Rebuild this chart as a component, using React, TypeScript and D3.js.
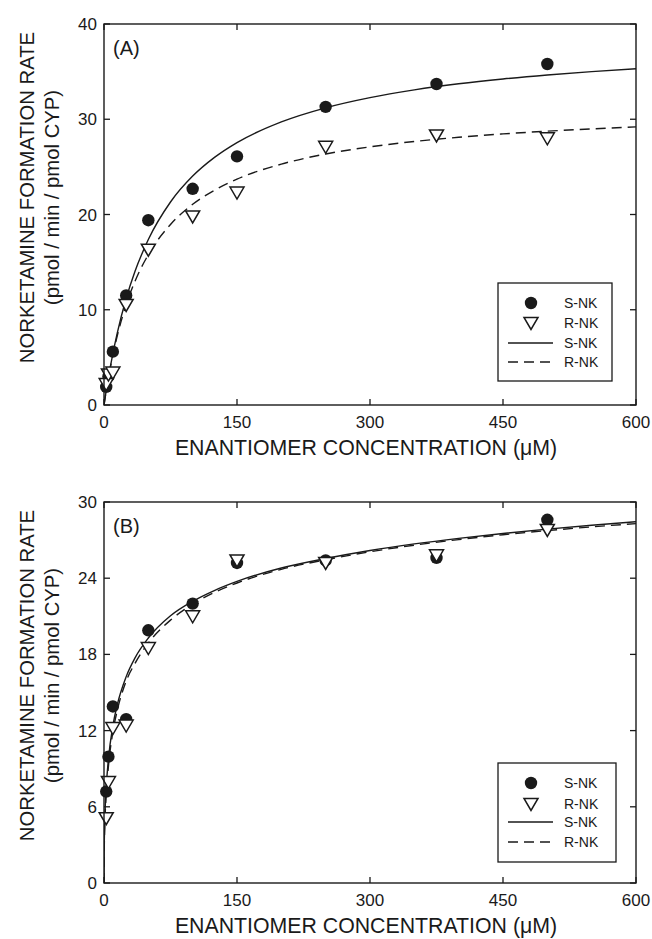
import React from "react";
import * as d3 from "d3";

// ---------- data ----------
const concentrations = [2.5, 5, 10, 25, 50, 100, 150, 250, 375, 500];

const rateA_S = [1.9, 3.0, 5.6, 11.5, 19.4, 22.7, 26.1, 31.3, 33.7, 35.8];
const rateA_R = [2.2, 3.2, 3.4, 10.5, 16.3, 19.8, 22.3, 27.1, 28.3, 28.0];

const rateB_S = [7.2, 9.95, 13.9, 12.9, 19.9, 22.0, 25.2, 25.4, 25.6, 28.6];
const rateB_R = [5.1, 7.95, 12.2, 12.4, 18.5, 21.0, 25.4, 25.2, 25.8, 27.8];

// fitted curves
const fitConc = [0, 1, 2.5, 5, 10, 15, 25, 35, 50, 75, 100, 125, 150, 200, 250, 300, 350, 400, 450, 500, 550, 600];
const fitA_S = [0, 0.62, 1.51, 2.9, 5.4, 7.58, 11.18, 14.04, 17.37, 21.31, 24.03, 26.02, 27.55, 29.72, 31.2, 32.27, 33.08, 33.72, 34.23, 34.65, 35.0, 35.3];
const fitA_R = [0, 0.62, 1.5, 2.87, 5.26, 7.28, 10.52, 13.0, 15.79, 18.95, 21.07, 22.57, 23.71, 25.29, 26.35, 27.1, 27.67, 28.11, 28.46, 28.75, 28.99, 29.2];
const fitConcB = [0, 0.25, 1, 2.5, 5, 10, 15, 25, 35, 50, 75, 100, 125, 150, 200, 250, 300, 350, 400, 450, 500, 550, 600];
const fitB_S = [0, 2.78, 5.15, 7.51, 9.76, 12.38, 14.05, 16.25, 17.73, 19.29, 21.04, 22.18, 23.05, 23.75, 24.8, 25.55, 26.18, 26.7, 27.14, 27.52, 27.86, 28.17, 28.45];
const fitB_R = [0, 2.56, 4.77, 7.0, 9.2, 11.9, 13.6, 15.9, 17.3, 18.9, 20.7, 21.95, 22.9, 23.62, 24.7, 25.45, 26.08, 26.6, 27.04, 27.42, 27.75, 28.04, 28.3];

const xTicks = [0, 150, 300, 450, 600];
const yTicksA = [0, 10, 20, 30, 40];
const yTicksB = [0, 6, 12, 18, 24, 30];
const legendLabels = ["S-NK", "R-NK", "S-NK", "R-NK"];

const INK = "#1a1a1a";
const FONT = "Liberation Sans, Arial, Helvetica, sans-serif";

type PanelProps = {
  top: number;
  bottom: number;
  yMax: number;
  yTicks: number[];
  label: string;
  sRates: number[];
  rRates: number[];
  sFitX: number[];
  sFit: number[];
  rFit: number[];
  legend: { x0: number; x1: number; y0: number; y1: number; rows: number[] };
};

function triPath(cx: number, cy: number) {
  return `M${cx - 7},${cy - 5.5}L${cx + 7},${cy - 5.5}L${cx},${cy + 6.5}Z`;
}

function Panel(p: PanelProps) {
  const left = 104;
  const right = 636;
  const x = d3.scaleLinear().domain([0, 600]).range([left, right]);
  const y = d3.scaleLinear().domain([0, p.yMax]).range([p.bottom, p.top]);
  const line = d3
    .line<[number, number]>()
    .x((d) => x(d[0]))
    .y((d) => y(d[1]))
    .curve(d3.curveMonotoneX);
  const sPath = line(p.sFitX.map((c, i) => [c, p.sFit[i]] as [number, number])) || "";
  const rPath = line(p.sFitX.map((c, i) => [c, p.rFit[i]] as [number, number])) || "";
  const tl = 6;
  const midY = (p.top + p.bottom) / 2 - 17;
  const lg = p.legend;
  return (
    <g>
      <defs>
        <clipPath id={"clip" + p.label}>
          <rect x={left} y={p.top} width={right - left} height={p.bottom - p.top} />
        </clipPath>
      </defs>
      {/* curves */}
      <g clipPath={`url(#clip${p.label})`}>
        <path d={sPath} fill="none" stroke={INK} strokeWidth={1.4} />
        <path d={rPath} fill="none" stroke={INK} strokeWidth={1.4} strokeDasharray="10,6" />
      </g>
      {/* points */}
      {concentrations.map((c, i) => (
        <circle key={"s" + i} cx={x(c)} cy={y(p.sRates[i])} r={6.2} fill={INK} />
      ))}
      {concentrations.map((c, i) => (
        <path key={"r" + i} d={triPath(x(c), y(p.rRates[i]))} fill="white" stroke={INK} strokeWidth={1.5} />
      ))}
      {/* frame */}
      <rect x={left} y={p.top} width={right - left} height={p.bottom - p.top} fill="none" stroke={INK} strokeWidth={1.4} />
      {xTicks.map((t) => (
        <g key={"xt" + t}>
          <line x1={x(t)} x2={x(t)} y1={p.bottom} y2={p.bottom - tl} stroke={INK} strokeWidth={1.3} />
          <line x1={x(t)} x2={x(t)} y1={p.top} y2={p.top + tl} stroke={INK} strokeWidth={1.3} />
          <text x={x(t)} y={p.bottom + 23} textAnchor="middle" fontSize={17} fill={INK} fontFamily={FONT}>
            {t}
          </text>
        </g>
      ))}
      {p.yTicks.map((t) => (
        <g key={"yt" + t}>
          <line x1={left} x2={left + tl} y1={y(t)} y2={y(t)} stroke={INK} strokeWidth={1.3} />
          <line x1={right} x2={right - tl} y1={y(t)} y2={y(t)} stroke={INK} strokeWidth={1.3} />
          <text x={97} y={y(t) + 6} textAnchor="end" fontSize={17} fill={INK} fontFamily={FONT}>
            {t}
          </text>
        </g>
      ))}
      <text x={113} y={p.top + 31} fontSize={20} fill={INK} fontFamily={FONT}>
        {"(" + p.label + ")"}
      </text>
      <text x={366} y={p.bottom + 50} textAnchor="middle" fontSize={21.3} fill={INK} fontFamily={FONT}>
        ENANTIOMER CONCENTRATION (μM)
      </text>
      <text transform={`translate(34,${midY}) rotate(-90)`} textAnchor="middle" fontSize={20.3} fill={INK} fontFamily={FONT}>
        NORKETAMINE FORMATION RATE
      </text>
      <text transform={`translate(59,${midY}) rotate(-90)`} textAnchor="middle" fontSize={20.3} fill={INK} fontFamily={FONT}>
        (pmol / min / pmol CYP)
      </text>
      {/* legend */}
      <rect x={lg.x0} y={lg.y0} width={lg.x1 - lg.x0} height={lg.y1 - lg.y0} fill="white" stroke={INK} strokeWidth={1.3} />
      <circle cx={531} cy={lg.rows[0]} r={6.2} fill={INK} />
      <path d={triPath(531, lg.rows[1])} fill="white" stroke={INK} strokeWidth={1.5} />
      <line x1={508} x2={553} y1={lg.rows[2]} y2={lg.rows[2]} stroke={INK} strokeWidth={1.4} />
      <line x1={508} x2={553} y1={lg.rows[3]} y2={lg.rows[3]} stroke={INK} strokeWidth={1.4} strokeDasharray="10,6" />
      {legendLabels.map((l, i) => (
        <text key={"lg" + i} x={564} y={lg.rows[i] + 5} fontSize={14} fill={INK} fontFamily={FONT}>
          {l}
        </text>
      ))}
    </g>
  );
}

export default function App() {
  return (
    <svg
      width={652}
      height={939}
      style={{ position: "absolute", left: 0, top: 0, background: "white" }}
    >
      <rect width={652} height={939} fill="white" />
      <Panel
        top={24}
        bottom={405}
        yMax={40}
        yTicks={yTicksA}
        label="A"
        sRates={rateA_S}
        rRates={rateA_R}
        sFitX={fitConc}
        sFit={fitA_S}
        rFit={fitA_R}
        legend={{ x0: 498, x1: 612, y0: 283, y1: 381, rows: [303, 323, 343, 362] }}
      />
      <Panel
        top={502}
        bottom={883}
        yMax={30}
        yTicks={yTicksB}
        label="B"
        sRates={rateB_S}
        rRates={rateB_R}
        sFitX={fitConcB}
        sFit={fitB_S}
        rFit={fitB_R}
        legend={{ x0: 498, x1: 616, y0: 763, y1: 862, rows: [783, 804, 822, 842] }}
      />
    </svg>
  );
}
